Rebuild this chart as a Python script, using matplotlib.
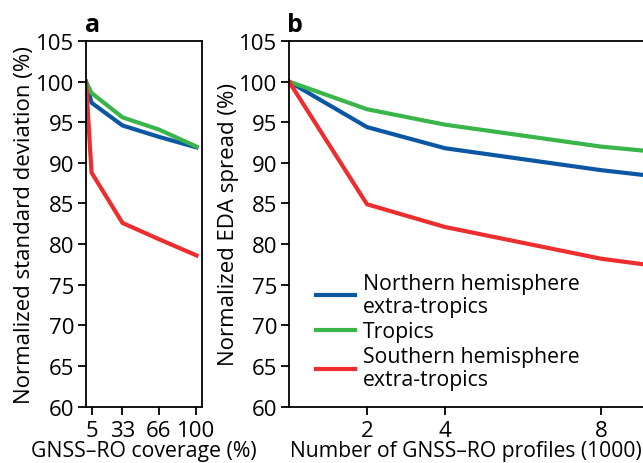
import matplotlib.pyplot as plt
import numpy as np

plt.rcParams['font.family'] = ['Open Sans', 'DejaVu Sans']

# panel a: coverage (%)
coverage = [0, 5, 33, 66, 100]
a_north = [100, 97.4, 94.6, 93.2, 91.9]
a_tropics = [100, 98.6, 95.6, 94.1, 92.0]
a_south = [100, 88.8, 82.6, 80.6, 78.6]

# panel b: number of profiles (1000)
profiles = [0, 2, 4, 8, 9.1]
b_north = [100, 94.4, 91.8, 89.1, 88.5]
b_tropics = [100, 96.6, 94.7, 92.0, 91.5]
b_south = [100, 84.9, 82.1, 78.2, 77.5]

labels = ['Northern hemisphere\nextra-tropics', 'Tropics',
          'Southern hemisphere\nextra-tropics']
colors = ['#0b57a4', '#3ab54a', '#ed2d2e']
yticks = [60, 65, 70, 75, 80, 85, 90, 95, 100, 105]

fig = plt.figure(figsize=(6.43, 4.64), dpi=100)
W, H = 643.0, 464.0
axa = fig.add_axes([86/W, 1-407.5/H, (202-86)/W, (407.5-42)/H])
axb = fig.add_axes([289/W, 1-407.5/H, 1-289/W, (407.5-42)/H])

for y, c in zip([a_north, a_tropics, a_south], colors):
    axa.plot(coverage, y, color=c, lw=3)
for y, c, l in zip([b_north, b_tropics, b_south], colors, labels):
    axb.plot(profiles, y, color=c, lw=3, label=l)

axa.set_xlim(0, 105)
axa.set_xticks([5, 33, 66, 100])
axb.set_xlim(0, 9.08)
axb.set_xticks([2, 4, 8])
axb.spines['right'].set_visible(False)

for ax in (axa, axb):
    ax.set_ylim(60, 105)
    ax.set_yticks(yticks)
    ax.tick_params(direction='out', length=6, width=1.3, labelsize=16)
    ax.tick_params(axis='x', pad=4)
    ax.tick_params(axis='y', pad=2.5)
    for s in ax.spines.values():
        s.set_linewidth(1.3)

axa.set_ylabel('Normalized standard deviation (%)', fontsize=16, labelpad=1)
axa.set_xlabel('GNSS\u2013RO coverage (%)', fontsize=15.3, labelpad=-1)
axb.set_ylabel('Normalized EDA spread (%)', fontsize=16, labelpad=0)
axb.set_xlabel('Number of GNSS\u2013RO profiles (1000)', fontsize=15.2, labelpad=-1)

axa.text(-0.01, 1.01, 'a', transform=axa.transAxes, fontsize=18, fontweight='bold', va='bottom')
axb.text(-0.005, 1.01, 'b', transform=axb.transAxes, fontsize=18, fontweight='bold', va='bottom')

leg = axb.legend(loc='upper left', bbox_to_anchor=(0.075, 0.365), frameon=False, fontsize=15.3,
                 handlelength=1.85, handletextpad=0.4, labelspacing=0.2,
                 borderpad=0, borderaxespad=0)
for t in leg.get_texts():
    t.set_linespacing(1.1)

plt.savefig('out.png', dpi=100)
